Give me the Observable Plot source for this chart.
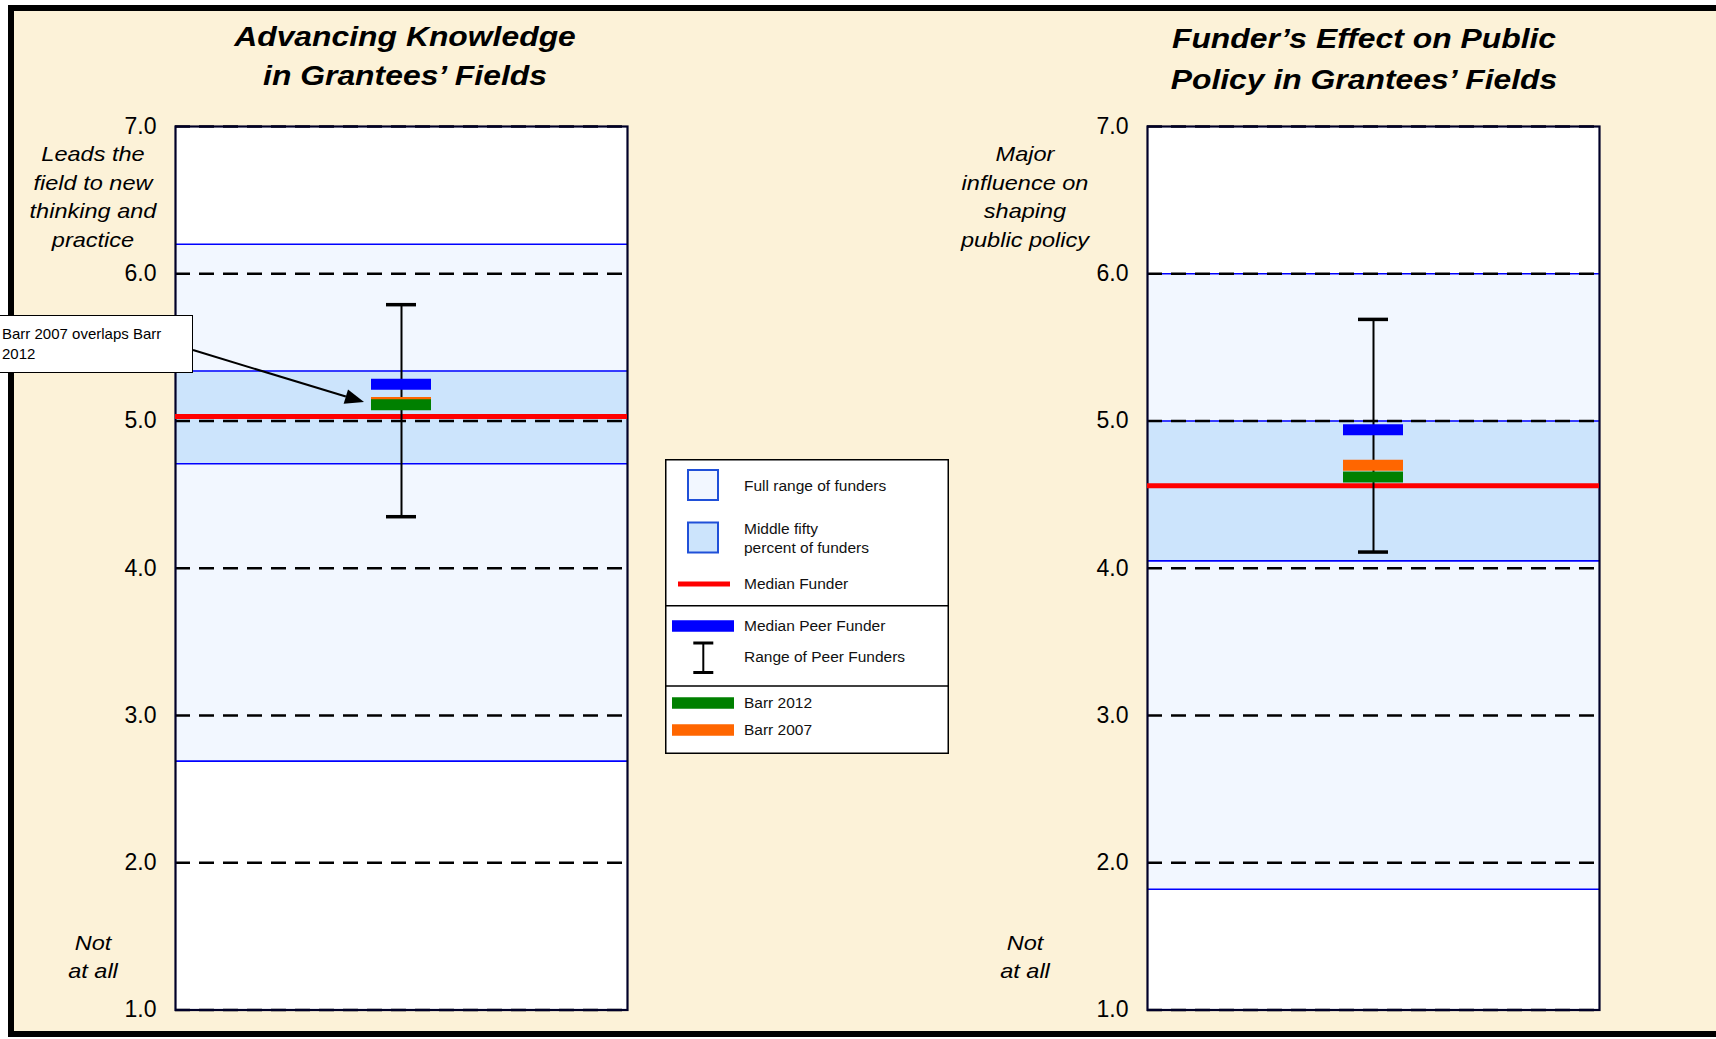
<!DOCTYPE html>
<html><head><meta charset="utf-8">
<script src="https://cdn.jsdelivr.net/npm/d3@7"></script>
<script src="https://cdn.jsdelivr.net/npm/@observablehq/plot@0.6"></script>
<style>
html,body{margin:0;padding:0;width:1716px;height:1039px;overflow:hidden;background:#fff;font-family:"Liberation Sans",Arial,sans-serif;}
#frame{position:absolute;left:8px;top:5px;width:1800px;height:1032px;box-sizing:border-box;border:6px solid #000;background:#FCF2D8;}
.t{position:absolute;white-space:nowrap;line-height:1;color:#000;}
.panel{position:absolute;top:0;}
#callout{position:absolute;left:-4px;top:315px;width:197px;height:58px;box-sizing:border-box;border:1.5px solid #000;background:#fff;font-size:15px;line-height:20px;padding:8px 0 0 5px;color:#000;}
#legend{position:absolute;left:665px;top:459px;overflow:visible;}
</style></head><body>
<div id="frame"></div>
<script>
// ---------------- data ----------------
const yTicks = [1, 2, 3, 4, 5, 6, 7];
const titleLines = [["Advancing Knowledge", "in Grantees’ Fields"], ["Funder’s Effect on Public", "Policy in Grantees’ Fields"]];
const topAnchorLines = [["Leads the", "field to new", "thinking and", "practice"], ["Major", "influence on", "shaping", "public policy"]];
const bottomAnchorLines = [["Not", "at all"], ["Not", "at all"]];
const fullRangeLow = [2.69, 1.82];
const fullRangeHigh = [6.20, 6.00];
const middleFiftyLow = [4.71, 4.05];
const middleFiftyHigh = [5.34, 5.00];
const medianFunder = [5.03, 4.56];
const peerRangeLow = [4.35, 4.11];
const peerRangeHigh = [5.79, 5.69];
const medianPeerFunder = [5.25, 4.94];
const barr2012 = [5.11, 4.62];
const barr2007 = [5.125, 4.70];
const legendLabels = [["Full range of funders"], ["Middle fifty", "percent of funders"], ["Median Funder"], ["Median Peer Funder"], ["Range of Peer Funders"], ["Barr 2012"], ["Barr 2007"]];
const calloutLines = ["Barr 2007 overlaps Barr", "2012"];

// ---------------- styles ----------------
const FULL_FILL = "#F2F7FF", MID_FILL = "#CCE4FC", BAND_LINE = "#0000FF";
const RED = "#FF0000", BLUE = "#0000FF", GREEN = "#008000", ORANGE = "#FF6600";
const PAD = 0.7657;
const W = 660, H = 1039;
const M = {left: 175, right: 33, top: 126, bottom: 29.5};
const panelLeft = [0, 972];
const CALLOUT = {left: -4, top: 315, width: 197, height: 58};

function arrowMark(targetValue) {
  return (index, scales, values, dims) => {
    const plotW = dims.width - dims.marginLeft - dims.marginRight;
    const cx = dims.marginLeft + plotW / 2;
    const bw = plotW * (1 - PAD) / (1 + PAD);
    const x2 = cx - bw / 2 - 7, y2 = scales.y(targetValue);
    const x1 = CALLOUT.left + CALLOUT.width, y1 = CALLOUT.top + 35;
    const ang = Math.atan2(y2 - y1, x2 - x1);
    const len = 19, hw = 7.5;
    const bx = x2 - len * Math.cos(ang), by = y2 - len * Math.sin(ang);
    const px = -Math.sin(ang) * hw, py = Math.cos(ang) * hw;
    const g = d3.create("svg:g");
    g.append("line").attr("x1", x1).attr("y1", y1).attr("x2", bx).attr("y2", by)
      .attr("stroke", "#000").attr("stroke-width", 2);
    g.append("polygon").attr("points", `${x2},${y2} ${bx + px},${by + py} ${bx - px},${by - py}`).attr("fill", "#000");
    return g.node();
  };
}

function panel(i) {
  const cat = titleLines[i].join(" ");
  const one = [{cat}];
  const marks = [
    Plot.frame({fill: "white", stroke: "none"}),
    Plot.rect(one, {y1: () => fullRangeLow[i], y2: () => fullRangeHigh[i], fill: FULL_FILL}),
    Plot.rect(one, {y1: () => middleFiftyLow[i], y2: () => middleFiftyHigh[i], fill: MID_FILL}),
    Plot.ruleY([fullRangeLow[i], fullRangeHigh[i], middleFiftyLow[i], middleFiftyHigh[i]], {stroke: BAND_LINE, strokeWidth: 1.6}),
    Plot.ruleY(yTicks, {stroke: "#000", strokeWidth: 2.6, strokeDasharray: "15,9"}),
    Plot.frame({stroke: "#000028", strokeWidth: 2.2}),
    Plot.ruleY([medianFunder[i]], {stroke: RED, strokeWidth: 5}),
    Plot.ruleX(one, {x: "cat", y1: () => peerRangeLow[i], y2: () => peerRangeHigh[i], stroke: "#000", strokeWidth: 2}),
    Plot.tickY([peerRangeLow[i], peerRangeHigh[i]].map(v => ({cat, v})), {x: "cat", y: "v", stroke: "#000", strokeWidth: 3.5, insetLeft: 15, insetRight: 15}),
    Plot.tickY([{cat, v: medianPeerFunder[i]}], {x: "cat", y: "v", stroke: BLUE, strokeWidth: 11}),
    Plot.tickY([{cat, v: barr2007[i]}], {x: "cat", y: "v", stroke: ORANGE, strokeWidth: 11}),
    Plot.tickY([{cat, v: barr2012[i]}], {x: "cat", y: "v", stroke: GREEN, strokeWidth: 11})
  ];
  if (i === 0) marks.push(arrowMark(barr2007[0]));
  const svg = Plot.plot({
    width: W, height: H,
    marginLeft: M.left, marginRight: M.right, marginTop: M.top, marginBottom: M.bottom,
    style: {background: "transparent", fontFamily: "'Liberation Sans', Arial, sans-serif", fontSize: "23px", color: "#000", overflow: "visible"},
    x: {type: "band", domain: [cat], padding: PAD, axis: null},
    y: {domain: [1, 7], ticks: yTicks, tickFormat: d3.format(".1f"), tickSize: 0, tickPadding: 19, label: null},
    marks
  });
  svg.classList.add("panel");
  svg.style.position = "absolute";
  svg.style.left = panelLeft[i] + "px";
  svg.style.top = "0px";
  document.body.appendChild(svg);
}

function placeText(text, cx, baseline, size, opts = {}) {
  const d = document.createElement("div");
  d.className = "t";
  d.textContent = text;
  d.style.fontSize = size + "px";
  d.style.left = cx + "px";
  d.style.top = (baseline - 0.8465 * size) + "px";
  d.style.fontWeight = opts.weight || "normal";
  d.style.fontStyle = opts.style || "normal";
  d.style.transform = `translateX(-50%) scaleX(${opts.sx || 1})`;
  document.body.appendChild(d);
}

panel(0);
panel(1);

// titles
const titleCx = [405, 1364];
const titleBase = [[47, 86], [49, 90]];
titleLines.forEach((lines, i) => lines.forEach((l, j) =>
  placeText(l, titleCx[i], titleBase[i][j], 27, {weight: "bold", style: "italic", sx: 1.18})));

// anchor labels
const anchorCx = [93, 1025];
topAnchorLines.forEach((lines, i) => lines.forEach((l, j) =>
  placeText(l, anchorCx[i], 161 + j * 28.5, 21, {style: "italic", sx: 1.12})));
bottomAnchorLines.forEach((lines, i) => lines.forEach((l, j) =>
  placeText(l, anchorCx[i], 950 + j * 28, 21, {style: "italic", sx: 1.12})));

// callout
const co = document.createElement("div");
co.id = "callout";
co.innerHTML = calloutLines.join("<br>");
document.body.appendChild(co);

// legend
const LW = 284, LH = 295;
const lg = d3.create("svg").attr("id", "legend").attr("width", LW).attr("height", LH)
  .style("font-family", "'Liberation Sans', Arial, sans-serif").style("font-size", "15.5px");
lg.append("rect").attr("x", 0.75).attr("y", 0.75).attr("width", LW - 1.5).attr("height", LH - 1.5)
  .attr("fill", "#fff").attr("stroke", "#000").attr("stroke-width", 1.5);
[146.7, 227].forEach(y => lg.append("line").attr("x1", 0).attr("x2", LW).attr("y1", y).attr("y2", y).attr("stroke", "#000").attr("stroke-width", 1.5));
lg.append("rect").attr("x", 23).attr("y", 11).attr("width", 30).attr("height", 30).attr("fill", FULL_FILL).attr("stroke", "#2050D8").attr("stroke-width", 2);
lg.append("rect").attr("x", 23).attr("y", 63.5).attr("width", 30).attr("height", 30).attr("fill", MID_FILL).attr("stroke", "#2050D8").attr("stroke-width", 2);
lg.append("line").attr("x1", 13).attr("x2", 65).attr("y1", 125).attr("y2", 125).attr("stroke", RED).attr("stroke-width", 5);
lg.append("line").attr("x1", 7).attr("x2", 69).attr("y1", 167).attr("y2", 167).attr("stroke", BLUE).attr("stroke-width", 11.5);
lg.append("line").attr("x1", 38.3).attr("x2", 38.3).attr("y1", 184).attr("y2", 213.5).attr("stroke", "#000").attr("stroke-width", 2);
[184, 213.5].forEach(y => lg.append("line").attr("x1", 28.3).attr("x2", 48.3).attr("y1", y).attr("y2", y).attr("stroke", "#000").attr("stroke-width", 3));
lg.append("line").attr("x1", 7).attr("x2", 69).attr("y1", 244).attr("y2", 244).attr("stroke", GREEN).attr("stroke-width", 11.5);
lg.append("line").attr("x1", 7).attr("x2", 69).attr("y1", 271).attr("y2", 271).attr("stroke", ORANGE).attr("stroke-width", 11.5);
const legendY = [[26.7], [70, 88.7], [125], [167], [198], [244], [270.5]];
legendLabels.forEach((lines, k) => lines.forEach((l, j) =>
  lg.append("text").attr("x", 79).attr("y", legendY[k][j]).attr("dy", "0.35em").attr("fill", "#111").text(l)));
document.body.appendChild(lg.node());
</script></body></html>
